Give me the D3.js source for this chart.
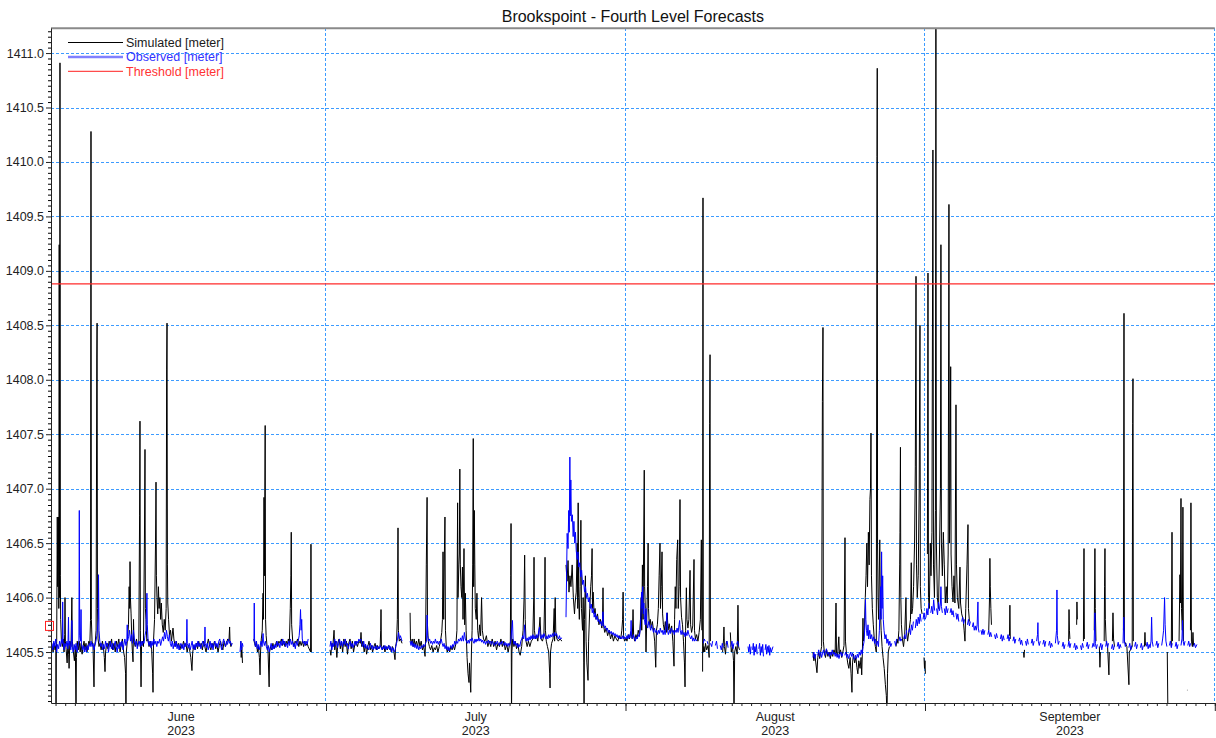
<!DOCTYPE html>
<html>
<head>
<meta charset="utf-8">
<script src="https://cdn.jsdelivr.net/npm/d3@7"></script>
<style>
  body { margin: 0; background: #fff; }
  svg text { font-family: Arial, "Liberation Sans", sans-serif; }
</style>
</head>
<body>
<svg id="chart" width="1216" height="738"></svg>
<script>
// Water level series: [days since 2023-06-01 00:00 UTC, level in meters]; null breaks the line.
const simJune = [
  [1.64,1405.55],[1.75,1405.50],[1.85,1405.58],[1.95,1405.52],[2.03,1405.56],[2.05,1404.9],[2.08,1405.5],[2.12,1405.6],[2.18,1406.74],[2.22,1406.1],[2.30,1406.74],[2.34,1405.9],[2.38,1409.24],[2.42,1406.0],[2.46,1410.91],[2.50,1406.2],[2.53,1405.8],[2.60,1405.62],[2.70,1405.55],[2.80,1405.62],[2.88,1405.5],[2.95,1405.66],[2.98,1406.0],[3.02,1405.6],[3.10,1405.52],[3.20,1405.4],[3.28,1405.58],[3.36,1405.48],[3.40,1405.35],[3.48,1405.6],[3.60,1405.55],[3.69,1406.0],[3.74,1405.6],[3.85,1405.5],[3.95,1405.42],[4.05,1405.55],[4.12,1404.9],[4.16,1405.45],[4.25,1405.6],[4.35,1405.52],[4.45,1405.6],[4.55,1405.5],[4.65,1405.58],[4.75,1405.48],[4.85,1405.55],[4.95,1405.6],[5.05,1405.52],[5.15,1405.58],[5.25,1405.5],[5.35,1405.55],[5.45,1405.6],[5.55,1405.57],[5.62,1405.79],[5.67,1410.28],[5.71,1405.8],[5.78,1405.6],[5.88,1405.55],[5.98,1405.18],[6.03,1405.55],[6.12,1405.6],[6.20,1405.7],[6.27,1408.2],[6.30,1408.52],[6.34,1405.9],[6.40,1405.62],[6.50,1405.55],
  [6.60,1405.58],[6.72,1405.52],[6.85,1405.6],[6.95,1405.55],[7.05,1405.45],[7.12,1405.32],[7.18,1405.5],[7.30,1405.58],[7.42,1405.53],[7.55,1405.6],[7.68,1405.55],[7.80,1405.62],[7.92,1405.52],[8.05,1405.58],[8.18,1405.5],[8.30,1405.6],[8.42,1405.55],[8.55,1405.62],[8.68,1405.5],[8.80,1405.57],[8.92,1405.62],[9.05,1405.5],[9.15,1405.45],[9.25,1405.3],[9.29,1404.9],[9.33,1405.5],[9.45,1405.62],[9.55,1405.75],[9.62,1406.1],[9.68,1405.9],[9.71,1406.33],[9.75,1406.0],[9.82,1405.85],[9.90,1405.6],[9.96,1405.5],[10.02,1405.41],[10.07,1405.8],[10.12,1405.6],[10.25,1405.55],[10.38,1405.62],[10.50,1405.55],[10.62,1405.6],[10.70,1406.75],[10.74,1407.62],[10.78,1405.7],[10.85,1405.18],[10.90,1405.55],[11.00,1405.6],[11.10,1405.55],[11.20,1406.5],[11.26,1407.36],[11.30,1405.9],[11.36,1405.8],[11.45,1405.6],[11.55,1405.62],[11.68,1405.55],[11.80,1405.6],[11.95,1405.52],[12.05,1405.3],[12.09,1405.13],[12.14,1405.6],[12.25,1405.8],[12.35,1406.5],[12.40,1407.06],[12.44,1406.2],[12.50,1406.0],[12.58,1405.85],[12.65,1406.1],[12.72,1405.9],[12.80,1406.0],[12.88,1405.8],[12.95,1405.95],[13.05,1405.75],[13.15,1405.68],[13.25,1405.8],[13.35,1405.7],[13.45,1405.9],[13.50,1408.09],[13.54,1408.52],[13.58,1406.3],[13.62,1405.95],[13.70,1405.8],[13.80,1405.65],[13.90,1405.7],[14.00,1405.6],[14.16,1405.72],[14.25,1405.62],[14.38,1405.55],
  [14.50,1405.6],[14.62,1405.55],[14.75,1405.58],[14.88,1405.52],[15.00,1405.57],[15.12,1405.54],[15.25,1405.6],[15.38,1405.55],[15.50,1405.58],[15.62,1405.5],[15.75,1405.56],[15.88,1405.52],[16.00,1405.45],[16.12,1405.33],[16.20,1405.5],[16.32,1405.56],[16.45,1405.52],[16.58,1405.58],[16.70,1405.53],[16.82,1405.6],[16.95,1405.55],[17.08,1405.58],[17.20,1405.52],[17.32,1405.6],[17.45,1405.55],[17.58,1405.5],[17.70,1405.57],[17.82,1405.62],[17.95,1405.55],[18.08,1405.52],[18.20,1405.58],[18.32,1405.55],[18.45,1405.6],[18.58,1405.53],[18.70,1405.57],[18.82,1405.5],[18.95,1405.56],[19.08,1405.6],[19.20,1405.55],[19.32,1405.52],[19.45,1405.6],[19.58,1405.55],[19.70,1405.58],[19.82,1405.62],[19.95,1405.6],[20.02,1405.73],[20.06,1405.6],[20.15,1405.55],[20.27,1405.58], null,
  [21.18,1405.6],[21.22,1405.45],[21.28,1405.55],[21.35,1405.4], null,
  [22.52,1405.62],[22.60,1405.58],[22.70,1405.55],[22.80,1405.6],[22.90,1405.5],[23.00,1405.55],[23.10,1405.45],[23.17,1405.29],[23.22,1405.5],[23.30,1405.62],[23.40,1405.7],[23.48,1406.04],[23.52,1405.8],[23.58,1406.92],[23.62,1406.2],[23.70,1407.58],[23.74,1405.8],[23.80,1405.65],[23.90,1405.55],[24.00,1405.5],[24.11,1405.18],[24.16,1405.5],[24.25,1405.55],[24.38,1405.52],[24.50,1405.58],[24.62,1405.53],[24.75,1405.56],[24.88,1405.6],[25.00,1405.55],[25.12,1405.6],[25.25,1405.58],[25.38,1405.62],[25.50,1405.56],[25.62,1405.6],[25.75,1405.55],[25.88,1405.6],[26.00,1405.57],[26.10,1405.62],[26.20,1405.58],[26.30,1405.9],[26.36,1406.2],[26.40,1406.6],[26.44,1405.75],[26.55,1405.6],[26.68,1405.55],[26.80,1405.6],[26.92,1405.58],[27.05,1405.62],[27.18,1405.55],[27.30,1405.6],[27.43,1405.56],[27.55,1405.6],[27.68,1405.55],[27.80,1405.6],[27.92,1405.56],[28.05,1405.58],[28.15,1405.55],[28.40,1405.5],[28.44,1406.49],[28.48,1405.5], null
];
const simJuly = [
  [30.41,1405.52],[30.50,1405.47],[30.60,1405.58],[30.70,1405.55],[30.83,1405.7],[30.90,1405.52],[31.00,1405.6],[31.12,1405.45],[31.22,1405.58],[31.35,1405.62],[31.48,1405.53],[31.60,1405.6],[31.72,1405.5],[31.85,1405.62],[31.98,1405.55],[32.10,1405.6],[32.22,1405.48],[32.35,1405.58],[32.48,1405.62],[32.60,1405.53],[32.72,1405.6],[32.85,1405.5],[32.98,1405.57],[33.10,1405.6],[33.25,1405.55],[33.40,1405.6],[33.55,1405.58],[33.62,1405.68],[33.70,1405.55],[33.82,1405.6],[33.95,1405.5],[34.08,1405.57],[34.20,1405.48],[34.32,1405.55],[34.45,1405.6],[34.58,1405.52],[34.70,1405.56],[34.82,1405.5],[34.95,1405.55],[35.08,1405.58],[35.20,1405.52],[35.32,1405.56],[35.45,1405.53],[35.60,1405.55],[35.66,1405.7],[35.69,1405.89],[35.73,1405.55],[35.85,1405.52],[35.98,1405.56],[36.10,1405.5],[36.22,1405.55],[36.35,1405.52],[36.48,1405.56],[36.62,1405.55],[36.75,1405.5],[36.88,1405.55],[37.00,1405.52],[37.14,1405.43],[37.20,1405.55],[37.30,1405.6],[37.38,1405.8],[37.45,1406.64],[37.49,1405.7],[37.58,1405.6],[37.70,1405.62],[37.87,1405.58], null,
  [38.70,1405.86],[38.74,1405.62],[38.82,1405.58],[38.92,1405.62],[39.02,1405.55],[39.12,1405.62],[39.22,1405.56],[39.35,1405.6],[39.48,1405.55],[39.60,1405.62],[39.72,1405.55],[39.85,1405.6],[39.98,1405.52],[40.10,1405.56],[40.25,1405.46],[40.30,1405.6],[40.38,1406.3],[40.46,1406.92],[40.50,1405.75],[40.58,1405.6],[40.70,1405.55],[40.82,1405.52],[40.95,1405.56],[41.08,1405.5],[41.20,1405.54],[41.32,1405.52],[41.45,1405.56],[41.58,1405.5],[41.72,1405.55],[41.85,1405.6],[41.98,1405.68],[42.05,1405.8],[42.11,1406.42],[42.18,1405.8],[42.25,1406.4],[42.31,1406.74],[42.36,1405.7],[42.45,1405.55],
  [42.55,1405.5],[42.68,1405.54],[42.80,1405.5],[42.92,1405.55],[43.05,1405.52],[43.18,1405.56],[43.30,1405.52],[43.45,1405.58],[43.55,1405.7],[43.62,1406.87],[43.66,1406.0],[43.75,1406.3],[43.80,1406.4],[43.85,1407.18],[43.90,1406.3],[43.97,1406.1],[44.05,1406.0],[44.12,1406.28],[44.18,1405.8],[44.28,1406.45],[44.35,1405.75],[44.42,1406.04],[44.50,1405.7],[44.60,1405.45],[44.70,1405.3],[44.80,1405.22],[44.85,1405.4],[44.98,1405.13],[45.05,1405.5],[45.12,1405.7],[45.18,1406.3],[45.24,1407.46],[45.28,1406.1],[45.35,1406.8],[45.40,1406.3],[45.45,1405.9],[45.55,1405.8],[45.62,1406.04],[45.70,1405.7],[45.80,1405.62],[45.90,1405.75],[46.00,1405.65],[46.10,1406.0],[46.18,1405.7],[46.30,1405.62],[46.45,1405.6],[46.60,1405.65],[46.75,1405.55],[46.90,1405.6],[47.05,1405.55],[47.20,1405.62],[47.35,1405.55],[47.50,1405.6],[47.65,1405.52],[47.80,1405.58],[47.95,1405.55],[48.10,1405.62],[48.25,1405.55],[48.40,1405.6],[48.55,1405.52],[48.70,1405.57],[48.85,1405.5],[48.98,1405.56],[49.08,1405.6],[49.12,1406.2],[49.15,1406.68],[49.18,1405.4],[49.20,1404.9],[49.24,1405.5],[49.32,1405.62],[49.45,1405.55],[49.58,1405.6],[49.72,1405.53],[49.85,1405.58],[49.98,1405.5],[50.10,1405.47],[50.25,1405.55],[50.40,1405.7],[50.50,1406.0],[50.56,1406.39],[50.62,1405.8],[50.70,1405.6],[50.82,1405.55],[50.95,1405.6],[51.10,1405.55],[51.25,1405.6],[51.40,1405.62],[51.50,1406.0],[51.53,1406.37],[51.57,1405.7],[51.68,1405.62],[51.80,1405.65],[51.92,1405.6],[52.05,1405.7],[52.15,1405.82],[52.25,1405.62],[52.40,1405.6],[52.55,1405.65],[52.63,1406.0],[52.67,1406.37],[52.71,1405.7],[52.80,1405.6],[52.92,1405.55],[53.05,1405.5],[53.15,1405.3],[53.19,1405.17],[53.24,1405.5],[53.35,1405.58],[53.50,1405.62],[53.62,1405.9],[53.66,1405.6],[53.72,1406.0],[53.78,1405.7],[53.90,1405.62],[54.05,1405.6],[54.20,1405.62],[54.43,1405.6], null,
  [54.84,1406.3],[54.95,1406.15],[55.05,1406.34],[55.15,1406.05],[55.25,1406.2],[55.35,1406.1],[55.48,1406.3],[55.60,1406.0],[55.72,1405.85],[55.78,1405.95],[55.90,1406.05],[56.00,1406.5],[56.05,1405.9],[56.10,1406.87],[56.15,1406.0],[56.22,1405.8],[56.30,1406.1],[56.38,1406.71],[56.44,1405.9],[56.55,1405.7],[56.62,1406.0],[56.68,1405.4],[56.71,1404.9],[56.75,1405.8],[56.85,1406.2],[56.92,1405.6],[57.00,1405.4],[57.12,1405.24],[57.18,1405.6],[57.30,1405.9],[57.40,1406.1],[57.48,1406.2],[57.54,1406.45],[57.58,1405.9],[57.65,1406.05],[57.75,1405.85],[57.85,1405.9],[57.95,1405.8],[58.10,1405.85],[58.25,1405.75],[58.40,1405.8],[58.55,1405.72],[58.62,1405.8],[58.67,1406.09],[58.72,1405.75],[58.85,1405.68],[59.00,1405.72],[59.15,1405.65],[59.30,1405.7],[59.45,1405.62],[59.60,1405.67],[59.75,1405.6],[59.90,1405.65],[60.05,1405.62],[60.20,1405.6],[60.35,1405.65],[60.50,1405.62],[60.62,1405.7],[60.70,1405.8],[60.75,1406.05],[60.80,1405.65],[60.90,1405.6],[61.05,1405.63]
];
const simAugust = [
  [61.15,1405.6],[61.28,1405.66],[61.40,1405.62],[61.55,1405.68],[61.70,1405.62],[61.78,1405.89],[61.84,1405.65],[61.95,1405.6],[62.08,1405.66],[62.20,1405.62],[62.32,1405.7],[62.45,1405.65],[62.55,1405.8],[62.62,1406.0],[62.68,1405.7],[62.75,1406.3],[62.82,1405.8],[62.88,1406.5],[62.94,1407.17],[62.98,1406.1],[63.05,1405.9],[63.12,1405.5],[63.20,1405.8],[63.28,1406.1],[63.34,1406.5],[63.38,1405.9],[63.46,1405.75],[63.56,1405.8],[63.66,1405.72],[63.78,1405.78],[63.90,1405.7],[64.02,1405.6],[64.13,1405.36],[64.20,1405.7],[64.30,1405.75],[64.40,1405.9],[64.48,1406.2],[64.57,1406.5],[64.62,1405.9],[64.70,1406.1],[64.78,1406.42],[64.84,1405.85],[64.92,1405.75],[65.02,1405.7],[65.12,1405.78],[65.22,1405.68],[65.32,1405.86],[65.40,1405.7],[65.52,1405.76],[65.65,1405.68],[65.78,1405.74],[65.90,1405.6],[66.02,1405.37],[66.08,1405.8],[66.15,1406.1],[66.22,1405.9],[66.30,1406.35],[66.40,1406.53],[66.46,1405.9],[66.55,1406.1],[66.64,1406.9],[66.70,1406.0],[66.80,1405.82],[66.90,1405.75],[67.00,1405.6],[67.10,1405.4],[67.16,1405.18],[67.22,1405.7],[67.30,1406.09],[67.36,1405.8],[67.46,1405.72],[67.56,1405.8],[67.68,1406.25],[67.74,1405.75],[67.84,1405.68],[67.96,1405.74],[68.09,1406.35],[68.14,1405.7],[68.24,1405.62],[68.36,1405.66],[68.50,1405.6],[68.62,1405.68],[68.75,1405.8],[68.85,1406.53],[68.90,1405.7], null,
  [68.98,1405.32],[69.02,1409.67],[69.05,1405.5],[69.12,1405.55],[69.20,1405.5],[69.28,1405.58],[69.40,1405.52],[69.55,1405.56],[69.66,1405.45],[69.71,1407.6],[69.75,1408.23],[69.79,1405.6], null,
  [71.05,1405.5],[71.15,1405.62],[71.19,1405.73],[71.24,1405.55],[71.35,1405.48],[71.45,1405.6], null,
  [71.85,1405.68],[71.95,1405.5],[72.08,1405.55],[72.18,1405.42],[72.23,1404.9],[72.30,1405.5],[72.42,1405.55],[72.56,1405.48],[72.64,1405.93],[72.70,1405.55],[72.80,1405.52], null,
  [80.40,1405.5],[80.50,1405.42],[80.60,1405.48],[80.70,1405.4],[80.82,1405.31],[80.90,1405.45],[81.00,1405.5],[81.10,1405.44],[81.20,1405.5],[81.30,1405.55],[81.38,1407.8],[81.44,1408.48],[81.48,1405.6],[81.58,1405.5],[81.70,1405.45],[81.82,1405.52],[81.95,1405.46],[82.08,1405.5],[82.20,1405.44],[82.32,1405.5],[82.45,1405.46],[82.58,1405.52],[82.70,1405.48],[82.79,1405.95],[82.84,1405.5],[82.95,1405.46],[83.08,1405.64],[83.14,1405.48],[83.26,1405.52],[83.38,1405.45],[83.50,1405.5],[83.62,1405.56],[83.72,1406.55],[83.77,1405.6],[83.88,1405.48],[84.00,1405.4],[84.12,1405.35],[84.25,1405.45],[84.35,1405.3],[84.44,1405.13],[84.50,1405.4],[84.60,1405.48],[84.72,1405.4],[84.85,1405.45],[84.95,1405.36],[85.05,1405.3],[85.15,1405.42],[85.28,1405.35],[85.38,1405.45],[85.45,1405.29],[85.52,1405.5],[85.58,1405.81],[85.63,1405.6],[85.72,1405.7],[85.82,1406.0],[85.90,1406.2],[85.98,1406.5],[86.05,1406.1],[86.14,1406.6],[86.22,1406.3],[86.30,1406.9],[86.36,1407.0],[86.41,1407.51],[86.46,1406.2],[86.55,1405.9],[86.65,1405.75],[86.75,1405.62],[86.86,1405.55],[86.96,1405.5],[87.03,1410.05],[87.06,1410.86],[87.09,1406.5],[87.14,1406.0],[87.20,1405.8],[87.32,1406.53],[87.38,1405.9],[87.46,1405.7],[87.56,1405.55],[87.66,1405.45],[87.78,1405.35],[87.90,1405.2],[88.00,1405.1],[88.07,1404.9],[88.12,1405.3],[88.20,1405.5],[88.32,1405.55], null,
  [89.00,1405.55],[89.10,1405.62],[89.20,1405.58],[89.30,1405.7],[89.38,1406.3],[89.41,1406.6],[89.46,1407.38],[89.50,1406.0],[89.56,1405.75],[89.66,1405.62],[89.78,1405.55],[89.90,1405.66],[90.03,1406.0],[90.08,1405.7],[90.20,1405.6],[90.35,1405.7],[90.50,1405.8],[90.58,1406.32],[90.63,1405.85],[90.72,1405.9],[90.82,1406.1],[90.92,1406.5],[91.00,1407.2],[91.07,1408.95],[91.12,1406.3],[91.20,1406.0],[91.30,1406.2],[91.40,1407.0],[91.48,1408.5],[91.52,1406.1],[91.60,1405.9],[91.70,1405.85], null,
  [91.90,1405.45],[91.95,1405.35],[92.00,1405.42],[92.04,1405.3], null
];
const simSeptember = [
  [92.25,1406.4],[92.31,1408.98],[92.36,1406.0],[92.45,1405.9],[92.55,1406.5],[92.62,1406.2],[92.72,1406.6],[92.82,1410.11],[92.88,1406.3],[92.98,1406.0],[93.08,1406.8],[93.13,1411.4],[93.18,1406.5],[93.28,1406.0],[93.40,1405.9],[93.50,1406.4],[93.60,1407.0],[93.65,1409.24],[93.70,1406.5],[93.80,1406.2],[93.90,1406.6],[94.00,1406.3],[94.10,1405.95],[94.20,1406.1],[94.30,1405.95],[94.40,1406.4],[94.48,1409.61],[94.53,1406.5],[94.60,1407.0],[94.66,1408.12],[94.70,1406.4],[94.80,1406.1],[94.90,1405.96],[95.00,1406.2],[95.10,1405.95],[95.21,1407.77],[95.26,1406.3],[95.35,1406.0],[95.50,1405.9],[95.62,1406.28],[95.68,1405.95],[95.80,1405.85],[95.95,1405.8],[96.05,1405.7],[96.14,1405.6],[96.22,1405.9],[96.35,1406.3],[96.45,1406.67],[96.50,1405.9],[96.60,1405.78], null,
  [98.60,1405.7],[98.68,1406.0],[98.72,1406.36],[98.76,1406.1],[98.82,1405.9],[98.88,1405.75], null,
  [100.75,1405.65],[100.79,1405.93],[100.83,1405.62], null,
  [102.20,1405.5],[102.25,1405.45],[102.30,1405.52], null,
  [106.87,1405.6],[106.91,1405.89],[106.95,1405.7],[107.00,1405.62], null,
  [107.70,1405.75],[107.73,1405.96],[107.77,1405.8], null,
  [108.40,1405.6],[108.46,1406.45],[108.50,1405.62], null,
  [109.52,1405.7],[109.59,1406.45],[109.63,1405.9],[109.70,1405.6], null,
  [110.05,1405.55],[110.11,1405.36],[110.16,1405.5], null,
  [110.55,1405.6],[110.59,1406.1],[110.63,1406.45],[110.67,1405.8],[110.75,1405.6],[110.90,1405.55],[111.04,1405.29],[111.08,1405.5], null,
  [111.40,1405.6],[111.46,1405.86],[111.52,1405.62],[111.62,1405.55], null,
  [112.54,1405.7],[112.60,1408.61],[112.64,1405.6],[112.90,1405.55],[113.11,1405.2],[113.15,1405.5],[113.45,1405.55],[113.50,1407.6],[113.53,1408.01],[113.57,1405.6], null,
  [114.72,1405.55],[114.77,1405.68],[114.82,1405.56], null,
  [117.08,1405.5],[117.15,1404.9], null,
  [117.50,1405.55],[117.57,1406.6],[117.62,1405.6], null,
  [118.30,1405.6],[118.39,1406.21],[118.44,1405.95],[118.50,1406.91],[118.55,1405.9],[118.64,1405.7],[118.70,1406.83],[118.75,1405.6], null,
  [119.12,1405.15],[119.16,1405.15], null,
  [119.48,1405.7],[119.53,1406.87],[119.58,1405.6],[119.68,1405.55],[119.74,1405.68],[119.80,1405.56], null
];

const obsJune = [
  [1.64,1405.58],[1.72,1405.52],[1.82,1405.6],[1.92,1405.55],[2.02,1405.62],[2.12,1405.5],[2.22,1405.57],[2.32,1405.53],[2.42,1405.6],[2.52,1405.55],[2.62,1405.62],[2.70,1405.58],[2.74,1405.96],[2.78,1405.6],[2.88,1405.52],[2.98,1405.58],[3.08,1405.55],[3.18,1405.6],[3.28,1405.53],[3.34,1405.82],[3.38,1405.56],[3.48,1405.6],[3.58,1405.52],[3.66,1405.6],[3.69,1405.79],[3.73,1405.55],[3.83,1405.5],[3.93,1405.57],[4.03,1405.52],[4.13,1405.58],[4.23,1405.5],[4.33,1405.55],[4.42,1405.6],[4.46,1406.8],[4.50,1405.65],[4.58,1405.6],[4.64,1405.89],[4.68,1405.58],[4.78,1405.52],[4.88,1405.56],[4.98,1405.5],[5.08,1405.55],[5.18,1405.5],[5.28,1405.56],[5.38,1405.52],[5.48,1405.58],[5.58,1405.55],[5.68,1405.6],[5.78,1405.55],[5.88,1405.58],[5.98,1405.52],[6.08,1405.56],[6.18,1405.6],[6.28,1405.65],[6.42,1405.8],[6.45,1406.21],[6.50,1405.7],[6.58,1405.6],[6.68,1405.55],[6.78,1405.58],[6.88,1405.52],[6.98,1405.57],[7.08,1405.53],[7.18,1405.6],[7.28,1405.55],[7.38,1405.58],[7.48,1405.5],[7.58,1405.56],[7.68,1405.6],[7.78,1405.53],[7.88,1405.58],[7.98,1405.52],[8.08,1405.56],[8.18,1405.6],[8.28,1405.55],[8.38,1405.5],[8.48,1405.57],[8.58,1405.53],[8.68,1405.59],[8.78,1405.55],[8.88,1405.6],[8.98,1405.52],[9.08,1405.57],[9.18,1405.62],[9.28,1405.56],[9.38,1405.6],[9.42,1405.75],[9.46,1405.6],[9.56,1405.64],[9.66,1405.7],[9.76,1405.6],[9.86,1405.66],[9.96,1405.58],[10.06,1405.7],[10.16,1405.62],[10.26,1405.56],[10.36,1405.6],[10.46,1405.53],[10.56,1405.58],[10.66,1405.6],[10.76,1405.55],[10.86,1405.6],[10.96,1405.56],[11.06,1405.6],[11.16,1405.58],[11.26,1405.65],[11.36,1405.7],[11.46,1406.04],[11.50,1405.75],[11.58,1405.6],[11.68,1405.56],[11.78,1405.6],[11.88,1405.54],[11.98,1405.6],[12.08,1405.56],[12.18,1405.62],[12.28,1405.57],[12.38,1405.6],[12.48,1405.55],[12.58,1405.6],[12.68,1405.58],[12.78,1405.62],[12.88,1405.56],[12.98,1405.6],[13.08,1405.64],[13.18,1405.6],[13.28,1405.68],[13.38,1405.62],[13.48,1405.7],[13.58,1405.64],[13.68,1405.6],[13.78,1405.66],[13.88,1405.58],[13.98,1405.55],[14.08,1405.6],[14.18,1405.53],[14.28,1405.58],[14.38,1405.55],[14.48,1405.6],[14.58,1405.53],[14.68,1405.57],[14.78,1405.52],[14.88,1405.56],[14.98,1405.58],[15.08,1405.53],[15.18,1405.57],[15.28,1405.52],[15.38,1405.58],[15.48,1405.55],[15.56,1405.6],[15.60,1405.8],[15.64,1405.58],[15.74,1405.54],[15.84,1405.58],[15.94,1405.52],[16.04,1405.56],[16.14,1405.6],[16.24,1405.53],[16.34,1405.57],[16.44,1405.52],[16.54,1405.58],[16.64,1405.55],[16.74,1405.6],[16.84,1405.55],[16.94,1405.58],[17.04,1405.53],[17.14,1405.57],[17.24,1405.6],[17.34,1405.55],[17.44,1405.6],[17.47,1405.73],[17.50,1405.58],[17.60,1405.54],[17.70,1405.58],[17.80,1405.52],[17.90,1405.56],[18.00,1405.6],[18.10,1405.54],[18.20,1405.58],[18.30,1405.52],[18.40,1405.57],[18.50,1405.6],[18.60,1405.55],[18.70,1405.58],[18.80,1405.54],[18.90,1405.6],[19.00,1405.62],[19.10,1405.56],[19.20,1405.52],[19.30,1405.58],[19.40,1405.62],[19.50,1405.58],[19.60,1405.55],[19.70,1405.6],[19.80,1405.57],[19.90,1405.62],[20.00,1405.58],[20.10,1405.6],[20.20,1405.56],[20.27,1405.58], null,
  [21.10,1405.5],[21.18,1405.6],[21.26,1405.52],[21.34,1405.58],[21.41,1405.55], null,
  [22.54,1405.6],[22.57,1405.95],[22.60,1405.62],[22.68,1405.55],[22.78,1405.6],[22.88,1405.53],[22.98,1405.57],[23.08,1405.52],[23.18,1405.56],[23.28,1405.6],[23.38,1405.55],[23.48,1405.67],[23.52,1405.6],[23.62,1405.56],[23.72,1405.6],[23.82,1405.55],[23.92,1405.52],[24.02,1405.56],[24.12,1405.5],[24.22,1405.54],[24.32,1405.58],[24.42,1405.52],[24.52,1405.56],[24.62,1405.53],[24.72,1405.57],[24.82,1405.54],[24.92,1405.6],[25.02,1405.56],[25.12,1405.58],[25.22,1405.54],[25.32,1405.6],[25.42,1405.56],[25.52,1405.62],[25.62,1405.57],[25.72,1405.6],[25.82,1405.55],[25.92,1405.58],[26.02,1405.54],[26.12,1405.6],[26.22,1405.56],[26.32,1405.62],[26.42,1405.57],[26.52,1405.6],[26.62,1405.55],[26.72,1405.58],[26.82,1405.53],[26.92,1405.6],[27.02,1405.56],[27.12,1405.6],[27.22,1405.65],[27.30,1405.75],[27.36,1405.89],[27.42,1405.7],[27.48,1405.8],[27.54,1405.62],[27.64,1405.58],[27.74,1405.6],[27.84,1405.56],[27.94,1405.6],[28.05,1405.57],[28.15,1405.62], null
];
const obsJuly = [
  [30.41,1405.55],[30.50,1405.6],[30.60,1405.52],[30.70,1405.58],[30.80,1405.55],[30.90,1405.62],[31.00,1405.56],[31.10,1405.6],[31.20,1405.54],[31.30,1405.58],[31.40,1405.62],[31.50,1405.56],[31.60,1405.6],[31.70,1405.55],[31.80,1405.6],[31.90,1405.57],[32.00,1405.62],[32.10,1405.56],[32.20,1405.58],[32.30,1405.53],[32.40,1405.57],[32.50,1405.6],[32.60,1405.55],[32.70,1405.58],[32.80,1405.54],[32.90,1405.57],[33.00,1405.6],[33.10,1405.56],[33.20,1405.6],[33.30,1405.58],[33.40,1405.62],[33.50,1405.6],[33.60,1405.62],[33.70,1405.58],[33.80,1405.55],[33.90,1405.6],[34.00,1405.54],[34.10,1405.57],[34.20,1405.53],[34.30,1405.56],[34.40,1405.52],[34.50,1405.55],[34.60,1405.58],[34.70,1405.53],[34.80,1405.56],[34.90,1405.52],[35.00,1405.55],[35.10,1405.53],[35.20,1405.56],[35.30,1405.52],[35.40,1405.55],[35.50,1405.53],[35.60,1405.56],[35.70,1405.54],[35.80,1405.52],[35.90,1405.55],[36.00,1405.53],[36.10,1405.56],[36.20,1405.52],[36.30,1405.55],[36.40,1405.53],[36.50,1405.56],[36.60,1405.52],[36.70,1405.55],[36.80,1405.5],[36.90,1405.54],[37.00,1405.52],[37.10,1405.5],[37.20,1405.54],[37.30,1405.58],[37.40,1405.62],[37.50,1405.68],[37.60,1405.62],[37.70,1405.65],[37.87,1405.6], null,
  [38.70,1405.6],[38.80,1405.56],[38.90,1405.6],[39.00,1405.55],[39.10,1405.58],[39.20,1405.54],[39.30,1405.57],[39.40,1405.53],[39.50,1405.56],[39.60,1405.52],[39.70,1405.55],[39.80,1405.53],[39.90,1405.56],[40.00,1405.54],[40.10,1405.57],[40.20,1405.55],[40.30,1405.58],[40.40,1405.6],[40.46,1405.84],[40.52,1405.65],[40.62,1405.6],[40.72,1405.62],[40.82,1405.58],[40.92,1405.6],[41.02,1405.57],[41.12,1405.6],[41.22,1405.58],[41.32,1405.62],[41.42,1405.58],[41.52,1405.6],[41.62,1405.57],[41.72,1405.6],[41.82,1405.58],[41.92,1405.62],[42.02,1405.58],[42.12,1405.55],[42.22,1405.58],[42.32,1405.53],[42.42,1405.56],[42.52,1405.52],[42.62,1405.55],[42.72,1405.51],[42.82,1405.54],[42.92,1405.56],[43.02,1405.53],[43.12,1405.57],[43.22,1405.55],[43.32,1405.6],[43.42,1405.57],[43.52,1405.6],[43.62,1405.58],[43.72,1405.62],[43.82,1405.6],[43.92,1405.63],[44.02,1405.6],[44.12,1405.65],[44.22,1405.6],[44.32,1405.68],[44.42,1405.62],[44.52,1405.6],[44.62,1405.58],[44.72,1405.61],[44.82,1405.58],[44.92,1405.62],[45.02,1405.6],[45.12,1405.63],[45.22,1405.6],[45.32,1405.58],[45.42,1405.62],[45.52,1405.59],[45.62,1405.62],[45.72,1405.6],[45.82,1405.63],[45.92,1405.6],[46.02,1405.62],[46.12,1405.59],[46.22,1405.61],[46.32,1405.58],[46.42,1405.6],[46.52,1405.57],[46.62,1405.6],[46.72,1405.58],[46.82,1405.61],[46.92,1405.58],[47.02,1405.6],[47.12,1405.57],[47.22,1405.6],[47.32,1405.58],[47.42,1405.56],[47.52,1405.59],[47.62,1405.57],[47.72,1405.6],[47.82,1405.58],[47.92,1405.56],[48.02,1405.59],[48.12,1405.57],[48.22,1405.6],[48.32,1405.58],[48.42,1405.56],[48.52,1405.59],[48.62,1405.56],[48.72,1405.58],[48.82,1405.55],[48.92,1405.58],[49.02,1405.56],[49.12,1405.6],[49.30,1405.79],[49.36,1405.62],[49.46,1405.57],[49.56,1405.6],[49.66,1405.56],[49.76,1405.58],[49.86,1405.54],[49.96,1405.57],[50.06,1405.55],[50.16,1405.6],[50.26,1405.62],[50.36,1405.65],[50.46,1405.62],[50.56,1405.75],[50.62,1405.64],[50.72,1405.6],[50.82,1405.63],[50.92,1405.6],[51.02,1405.64],[51.12,1405.61],[51.22,1405.65],[51.32,1405.62],[51.42,1405.66],[51.52,1405.62],[51.62,1405.65],[51.72,1405.62],[51.82,1405.66],[51.92,1405.63],[52.02,1405.7],[52.10,1405.73],[52.16,1405.65],[52.26,1405.62],[52.36,1405.66],[52.46,1405.63],[52.56,1405.67],[52.66,1405.64],[52.76,1405.62],[52.86,1405.65],[52.96,1405.62],[53.06,1405.66],[53.16,1405.63],[53.26,1405.66],[53.36,1405.64],[53.46,1405.67],[53.56,1405.64],[53.66,1405.68],[53.76,1405.65],[53.86,1405.67],[53.96,1405.64],[54.06,1405.62],[54.16,1405.65],[54.26,1405.62],[54.43,1405.63], null,
  [54.84,1405.82],[54.90,1406.2],[54.96,1406.59],[55.05,1406.45],[55.12,1406.8],[55.18,1406.6],[55.24,1407.29],[55.28,1406.75],[55.34,1407.08],[55.40,1406.7],[55.50,1406.76],[55.58,1406.56],[55.66,1406.7],[55.74,1406.5],[55.82,1406.6],[55.90,1406.43],[56.00,1406.35],[56.08,1406.42],[56.16,1406.28],[56.26,1406.32],[56.36,1406.19],[56.46,1406.25],[56.56,1406.12],[56.66,1406.16],[56.76,1406.05],[56.86,1406.1],[56.96,1406.0],[57.06,1406.04],[57.16,1405.96],[57.26,1406.0],[57.36,1405.9],[57.46,1405.94],[57.56,1405.86],[57.66,1405.9],[57.76,1405.82],[57.86,1405.86],[57.96,1405.8],[58.06,1405.83],[58.16,1405.78],[58.26,1405.8],[58.36,1405.76],[58.46,1405.78],[58.56,1405.74],[58.62,1405.8],[58.67,1405.87],[58.72,1405.76],[58.82,1405.72],[58.92,1405.74],[59.02,1405.7],[59.12,1405.72],[59.22,1405.68],[59.32,1405.7],[59.42,1405.67],[59.52,1405.69],[59.62,1405.66],[59.72,1405.68],[59.82,1405.65],[59.92,1405.67],[60.02,1405.64],[60.12,1405.66],[60.22,1405.63],[60.32,1405.65],[60.42,1405.62],[60.52,1405.64],[60.62,1405.62],[60.72,1405.65],[60.82,1405.62],[60.92,1405.64],[61.05,1405.62]
];
const obsAugust = [
  [61.15,1405.65],[61.25,1405.62],[61.35,1405.66],[61.45,1405.63],[61.55,1405.7],[61.58,1405.79],[61.62,1405.65],[61.72,1405.62],[61.82,1405.66],[61.92,1405.63],[62.02,1405.6],[62.12,1405.64],[62.22,1405.62],[62.32,1405.66],[62.42,1405.64],[62.52,1405.7],[62.60,1405.85],[62.66,1406.05],[62.72,1405.9],[62.78,1406.1],[62.84,1405.85],[62.90,1405.95],[62.96,1405.8],[63.04,1405.75],[63.12,1405.9],[63.20,1405.76],[63.30,1405.72],[63.40,1405.78],[63.50,1405.74],[63.60,1405.7],[63.70,1405.75],[63.80,1405.71],[63.90,1405.68],[64.00,1405.72],[64.10,1405.68],[64.20,1405.7],[64.30,1405.66],[64.40,1405.7],[64.50,1405.67],[64.60,1405.72],[64.70,1405.68],[64.80,1405.7],[64.90,1405.66],[65.00,1405.7],[65.10,1405.66],[65.20,1405.74],[65.28,1405.86],[65.34,1405.7],[65.44,1405.66],[65.54,1405.7],[65.64,1405.67],[65.74,1405.72],[65.84,1405.68],[65.94,1405.7],[66.04,1405.66],[66.14,1405.7],[66.24,1405.68],[66.34,1405.72],[66.44,1405.68],[66.54,1405.75],[66.60,1405.79],[66.66,1405.7],[66.76,1405.66],[66.86,1405.7],[66.96,1405.66],[67.06,1405.68],[67.16,1405.64],[67.26,1405.68],[67.36,1405.65],[67.46,1405.7],[67.56,1405.66],[67.66,1405.64],[67.76,1405.62],[67.86,1405.65],[67.96,1405.6],[68.06,1405.63],[68.16,1405.6],[68.26,1405.62],[68.38,1405.6], null,
  [69.05,1405.58],[69.15,1405.62],[69.25,1405.6], null,[69.45,1405.6],[69.55,1405.57], null,[69.80,1405.58],[69.92,1405.55],[70.02,1405.6], null,[70.30,1405.56],[70.42,1405.6],[70.52,1405.53], null,[70.80,1405.56],[70.92,1405.52],[71.02,1405.58],[71.12,1405.54], null,[71.40,1405.57],[71.52,1405.6],[71.62,1405.54], null,[71.90,1405.55],[72.02,1405.6],[72.12,1405.53],[72.22,1405.58], null,[72.50,1405.57],[72.62,1405.6],[72.72,1405.55], null,
  [73.68,1405.55],[73.76,1405.5],[73.84,1405.57],[73.92,1405.48],[74.00,1405.55], null,[74.15,1405.52],[74.23,1405.58],[74.31,1405.47],[74.39,1405.55],[74.47,1405.5],[74.55,1405.57],[74.63,1405.48], null,[74.80,1405.53],[74.88,1405.58],[74.96,1405.47],[75.04,1405.55],[75.12,1405.5],[75.20,1405.57],[75.28,1405.46], null,[75.45,1405.52],[75.53,1405.57],[75.61,1405.48],[75.69,1405.55],[75.77,1405.5],[75.85,1405.56],[75.93,1405.47],[76.01,1405.54],[76.09,1405.5],[76.27,1405.55], null,
  [80.40,1405.45],[80.50,1405.5],[80.60,1405.44],[80.70,1405.48], null,[80.90,1405.47],[81.00,1405.52],[81.10,1405.46],[81.20,1405.5],[81.30,1405.45],[81.40,1405.49],[81.50,1405.52],[81.60,1405.47],[81.70,1405.5],[81.80,1405.53],[81.90,1405.48],[82.00,1405.5],[82.10,1405.46],[82.20,1405.5],[82.30,1405.47],[82.40,1405.52],[82.50,1405.48],[82.60,1405.5],[82.70,1405.46],[82.80,1405.49],[82.90,1405.45],[83.00,1405.48],[83.10,1405.44],[83.20,1405.48],[83.30,1405.5],[83.40,1405.46],[83.50,1405.49], null,[83.70,1405.47],[83.80,1405.5],[83.90,1405.45],[84.00,1405.48],[84.10,1405.44],[84.20,1405.47],[84.30,1405.5],[84.40,1405.46],[84.50,1405.49],[84.60,1405.45],[84.70,1405.43],[84.80,1405.47],[84.90,1405.44],[85.00,1405.48],[85.10,1405.45],[85.20,1405.5],[85.30,1405.47],[85.40,1405.52],[85.50,1405.48],[85.60,1405.55],[85.70,1405.6],[85.78,1405.75],[85.84,1405.98],[85.88,1405.8],[85.94,1405.7],[86.02,1405.65],[86.10,1405.75],[86.18,1405.62],[86.28,1405.7],[86.38,1405.62],[86.48,1405.66],[86.58,1405.6],[86.68,1405.64],[86.78,1405.58],[86.88,1405.62],[86.98,1405.56],[87.08,1405.6],[87.18,1405.55],[87.28,1405.7],[87.34,1405.9],[87.40,1406.1],[87.46,1405.8],[87.51,1406.42],[87.56,1405.9],[87.62,1406.2],[87.68,1405.8],[87.76,1405.7],[87.86,1405.62],[87.96,1405.66],[88.06,1405.58],[88.16,1405.62],[88.26,1405.56],[88.36,1405.6],[88.46,1405.55],[88.56,1405.58], null,
  [88.86,1405.6],[88.96,1405.56],[89.06,1405.62], null,[89.30,1405.6],[89.40,1405.64],[89.50,1405.6],[89.60,1405.62], null,[89.80,1405.62],[89.90,1405.66],[90.00,1405.62],[90.10,1405.7], null,[90.30,1405.68],[90.40,1405.72],[90.50,1405.66],[90.60,1405.75],[90.70,1405.7],[90.80,1405.78], null,[91.00,1405.72],[91.10,1405.8],[91.20,1405.74],[91.30,1405.82],[91.40,1405.76],[91.50,1405.85],[91.60,1405.78], null,[91.80,1405.8],[91.90,1405.86],[92.00,1405.8]
];
const obsSeptember = [
  [92.10,1405.82],[92.20,1405.9],[92.30,1405.84],[92.40,1405.95], null,[92.60,1405.86],[92.70,1405.92],[92.80,1405.85],[92.90,1405.98],[93.00,1405.88], null,[93.20,1405.9],[93.30,1405.84],[93.40,1405.96],[93.50,1405.88],[93.60,1405.95],[93.65,1406.1],[93.70,1405.92],[93.80,1405.86], null,[94.00,1405.9],[94.10,1405.84],[94.20,1405.92],[94.30,1405.86],[94.40,1405.9], null,[94.60,1405.86],[94.70,1405.9],[94.80,1405.84],[94.90,1405.88],[95.00,1405.82], null,[95.20,1405.86],[95.30,1405.8],[95.40,1405.85],[95.50,1405.78], null,[95.80,1405.78],[95.90,1405.82],[96.00,1405.76],[96.10,1405.8], null,[96.40,1405.75],[96.50,1405.8],[96.60,1405.74],[96.70,1405.78], null,[96.90,1405.73],[97.00,1405.77],[97.10,1405.7],[97.20,1405.74],[97.30,1405.7],[97.40,1405.75],[97.48,1405.96],[97.52,1405.72],[97.60,1405.68], null,[97.80,1405.7],[97.90,1405.66],[98.00,1405.71],[98.10,1405.66],[98.20,1405.7], null,[98.50,1405.66],[98.60,1405.7],[98.70,1405.64],[98.80,1405.68],[98.90,1405.64], null,[99.20,1405.66],[99.30,1405.62],[99.40,1405.67],[99.50,1405.63], null,[99.80,1405.62],[99.90,1405.66],[100.00,1405.6],[100.10,1405.65],[100.20,1405.61], null,[100.50,1405.62],[100.60,1405.66],[100.70,1405.6],[100.80,1405.64], null,[101.10,1405.6],[101.20,1405.64],[101.30,1405.58],[101.40,1405.62], null,[101.70,1405.6],[101.80,1405.63],[101.90,1405.57],[102.00,1405.61],[102.10,1405.56], null,[102.40,1405.6],[102.50,1405.56],[102.60,1405.62],[102.70,1405.57], null,[103.00,1405.58],[103.10,1405.62],[103.20,1405.56],[103.30,1405.6], null,[103.55,1405.6],[103.65,1405.66],[103.69,1405.77],[103.73,1405.6],[103.83,1405.56],[103.93,1405.6], null,[104.20,1405.57],[104.30,1405.61],[104.40,1405.55],[104.50,1405.6], null,[104.80,1405.56],[104.90,1405.6],[105.00,1405.54],[105.10,1405.58],[105.20,1405.55], null,[105.50,1405.58],[105.62,1405.7],[105.66,1406.07],[105.70,1405.65],[105.80,1405.57],[105.90,1405.6], null,[106.20,1405.55],[106.30,1405.59],[106.40,1405.53],[106.50,1405.57], null,[106.80,1405.55],[106.90,1405.6],[107.00,1405.54],[107.10,1405.58], null,[107.40,1405.54],[107.50,1405.58],[107.60,1405.52],[107.70,1405.56],[107.80,1405.53], null,[108.10,1405.56],[108.20,1405.52],[108.30,1405.58],[108.40,1405.54], null,[108.70,1405.55],[108.80,1405.59],[108.90,1405.53],[109.00,1405.57], null,[109.30,1405.54],[109.40,1405.58],[109.50,1405.55],[109.59,1405.86],[109.64,1405.58],[109.74,1405.53],[109.84,1405.57], null,[110.10,1405.54],[110.20,1405.58],[110.30,1405.52],[110.40,1405.57], null,[110.70,1405.55],[110.80,1405.6],[110.90,1405.54],[111.00,1405.58], null,[111.30,1405.53],[111.40,1405.57],[111.50,1405.52],[111.60,1405.56], null,[111.90,1405.55],[112.00,1405.59],[112.10,1405.53],[112.20,1405.57],[112.30,1405.54], null,[112.50,1405.58],[112.58,1405.82],[112.64,1405.6],[112.74,1405.55],[112.84,1405.58], null,[113.10,1405.54],[113.20,1405.58],[113.30,1405.52],[113.40,1405.56], null,[113.70,1405.55],[113.80,1405.59],[113.90,1405.53],[114.00,1405.57], null,[114.30,1405.54],[114.40,1405.58],[114.50,1405.52],[114.60,1405.56], null,[114.90,1405.55],[115.00,1405.59],[115.10,1405.53],[115.20,1405.57],[115.30,1405.54],[115.40,1405.6],[115.46,1405.82],[115.52,1405.6],[115.62,1405.55], null,[115.90,1405.56],[116.00,1405.6],[116.10,1405.54],[116.20,1405.58], null,[116.50,1405.56],[116.60,1405.62],[116.70,1405.7],[116.80,1406.0],[116.86,1405.75],[116.94,1405.6],[117.04,1405.55], null,[117.30,1405.56],[117.40,1405.6],[117.50,1405.54],[117.60,1405.58], null,[117.90,1405.55],[118.00,1405.59],[118.10,1405.53],[118.20,1405.57], null,[118.50,1405.56],[118.60,1405.62],[118.66,1405.79],[118.72,1405.6],[118.82,1405.56],[118.92,1405.6], null,[119.20,1405.56],[119.30,1405.6],[119.40,1405.55],[119.50,1405.58], null,[119.80,1405.55],[119.90,1405.58],[120.00,1405.54],[120.15,1405.57]
];

const yTicks = [1405.5, 1406.0, 1406.5, 1407.0, 1407.5, 1408.0, 1408.5, 1409.0, 1409.5, 1410.0, 1410.5, 1411.0];
const monthNames = ["June", "July", "August", "September"];
const yearLabel = "2023";
const thresholdLevel = 1408.88;
const latestObserved = 1405.74;
const titleText = "Brookspoint - Fourth Level Forecasts";
const legendItems = [
  { label: "Simulated [meter]", line: "#000000", text: "#1a1a1a", width: 1 },
  { label: "Observed [meter]",  line: "#8080ff", text: "#3333ff", width: 2.5 },
  { label: "Threshold [meter]", line: "#ff2020", text: "#ff3333", width: 1 }
];

// ---- layout ----
const plot = { left: 51, right: 1214.8, top: 28, bottom: 703 };
const t0 = Date.UTC(2023, 5, 1);
const toDate = d => new Date(t0 + d * 864e5);

const x = d3.scaleUtc().domain([toDate(1.53), toDate(122)]).range([plot.left, plot.right]);
const y = d3.scaleLinear().domain([1405.032, 1411.23]).range([plot.bottom, plot.top]);

const svg = d3.select("#chart");

svg.append("defs").append("clipPath").attr("id", "plotClip")
  .append("rect")
  .attr("x", plot.left).attr("y", plot.top)
  .attr("width", plot.right - plot.left + 1).attr("height", plot.bottom - plot.top);

// gridlines
const grid = svg.append("g").attr("stroke", "#3d9bff").attr("stroke-dasharray", "3,2").attr("stroke-width", 1);
grid.selectAll("line.h").data(yTicks).join("line")
  .attr("x1", plot.left).attr("x2", plot.right)
  .attr("y1", d => Math.round(y(d)) + 0.5).attr("y2", d => Math.round(y(d)) + 0.5);
const monthStarts = d3.utcMonth.range(toDate(2), toDate(122.01));
grid.selectAll("line.v").data(monthStarts).join("line")
  .attr("x1", d => Math.round(x(d)) - 0.5).attr("x2", d => Math.round(x(d)) - 0.5)
  .attr("y1", plot.top).attr("y2", plot.bottom);

// data lines
const line = d3.line()
  .defined(p => p !== null)
  .x(p => x(toDate(p[0])))
  .y(p => y(p[1]));

const simulated = [...simJune, ...simJuly, ...simAugust, ...simSeptember];
const observed = [...obsJune, ...obsJuly, ...obsAugust, ...obsSeptember];

const data = svg.append("g").attr("clip-path", "url(#plotClip)");
data.append("path").datum(simulated)
  .attr("d", line).attr("fill", "none").attr("stroke", "#000").attr("stroke-width", 1);
data.append("path").datum(observed)
  .attr("d", line).attr("fill", "none").attr("stroke", "#0000ff").attr("stroke-width", 1);

// threshold
svg.append("line")
  .attr("x1", plot.left).attr("x2", plot.right)
  .attr("y1", y(thresholdLevel)).attr("y2", y(thresholdLevel))
  .attr("stroke", "#ff2a2a").attr("stroke-width", 1.2);

// top frame
svg.append("line")
  .attr("x1", plot.left).attr("x2", plot.right)
  .attr("y1", plot.top + 0.3).attr("y2", plot.top + 0.3)
  .attr("stroke", "#8a8a8a").attr("stroke-width", 2);

// y axis
const minorY = d3.range(1405.05, 1411.23, 0.05).filter(v => Math.abs(v * 2 - Math.round(v * 2)) > 1e-6);
const yAxisMinor = svg.append("g").attr("transform", `translate(${plot.left},0)`)
  .call(d3.axisLeft(y).tickValues(minorY).tickSize(3).tickFormat(""));
yAxisMinor.select(".domain").remove();
const yAxis = svg.append("g").attr("transform", `translate(${plot.left},0)`)
  .call(d3.axisLeft(y).tickValues(yTicks).tickSize(5).tickSizeOuter(0).tickPadding(2).tickFormat(d3.format(".1f")));
yAxis.selectAll("text").attr("font-size", "12.5px").attr("fill", "#222");
yAxis.selectAll("line").attr("stroke", "#222");
yAxis.select(".domain").attr("stroke", "#222");

// x axis: daily minor ticks, monthly major ticks
const xAxisDays = svg.append("g").attr("transform", `translate(0,${plot.bottom})`)
  .call(d3.axisBottom(x).ticks(d3.utcDay.every(1)).tickSize(3).tickSizeOuter(0).tickFormat(""));
xAxisDays.selectAll("line").attr("stroke", "#222");
xAxisDays.select(".domain").attr("stroke", "#222");
const xAxisMonths = svg.append("g").attr("transform", `translate(0,${plot.bottom})`)
  .call(d3.axisBottom(x).tickValues(monthStarts).tickSize(8).tickFormat(""));
xAxisMonths.select(".domain").remove();
xAxisMonths.selectAll("line").attr("stroke", "#222");

// month labels at month midpoints
const monthLabels = svg.append("g").attr("font-size", "12.5px").attr("fill", "#222").attr("text-anchor", "middle");
monthNames.forEach((name, i) => {
  const start = d3.utcMonth.offset(new Date(t0), i);
  const end = d3.utcMonth.offset(start, 1);
  const mid = new Date((+start + +end) / 2);
  const lx = x(mid);
  monthLabels.append("text").attr("x", lx).attr("y", 721).text(name);
  monthLabels.append("text").attr("x", lx).attr("y", 735).text(yearLabel);
});

// latest observed marker on the level axis
svg.append("rect")
  .attr("x", plot.left - 5.5).attr("y", y(latestObserved) - 4.5)
  .attr("width", 8).attr("height", 9)
  .attr("fill", "none").attr("stroke", "#ff2020").attr("stroke-width", 1);

// title
svg.append("text")
  .attr("x", (plot.left + plot.right) / 2).attr("y", 22)
  .attr("text-anchor", "middle").attr("font-size", "16px").attr("fill", "#111")
  .text(titleText);

// legend
const legend = svg.append("g").attr("transform", "translate(68,42.5)");
legendItems.forEach((item, i) => {
  const g = legend.append("g").attr("transform", `translate(0,${i * 14.4})`);
  g.append("line").attr("x1", 0).attr("x2", 55).attr("y1", 0).attr("y2", 0)
    .attr("stroke", item.line).attr("stroke-width", item.width);
  g.append("text").attr("x", 58).attr("y", 0).attr("dy", "0.36em")
    .attr("font-size", "12.5px").attr("fill", item.text).text(item.label);
});
</script>
</body>
</html>
